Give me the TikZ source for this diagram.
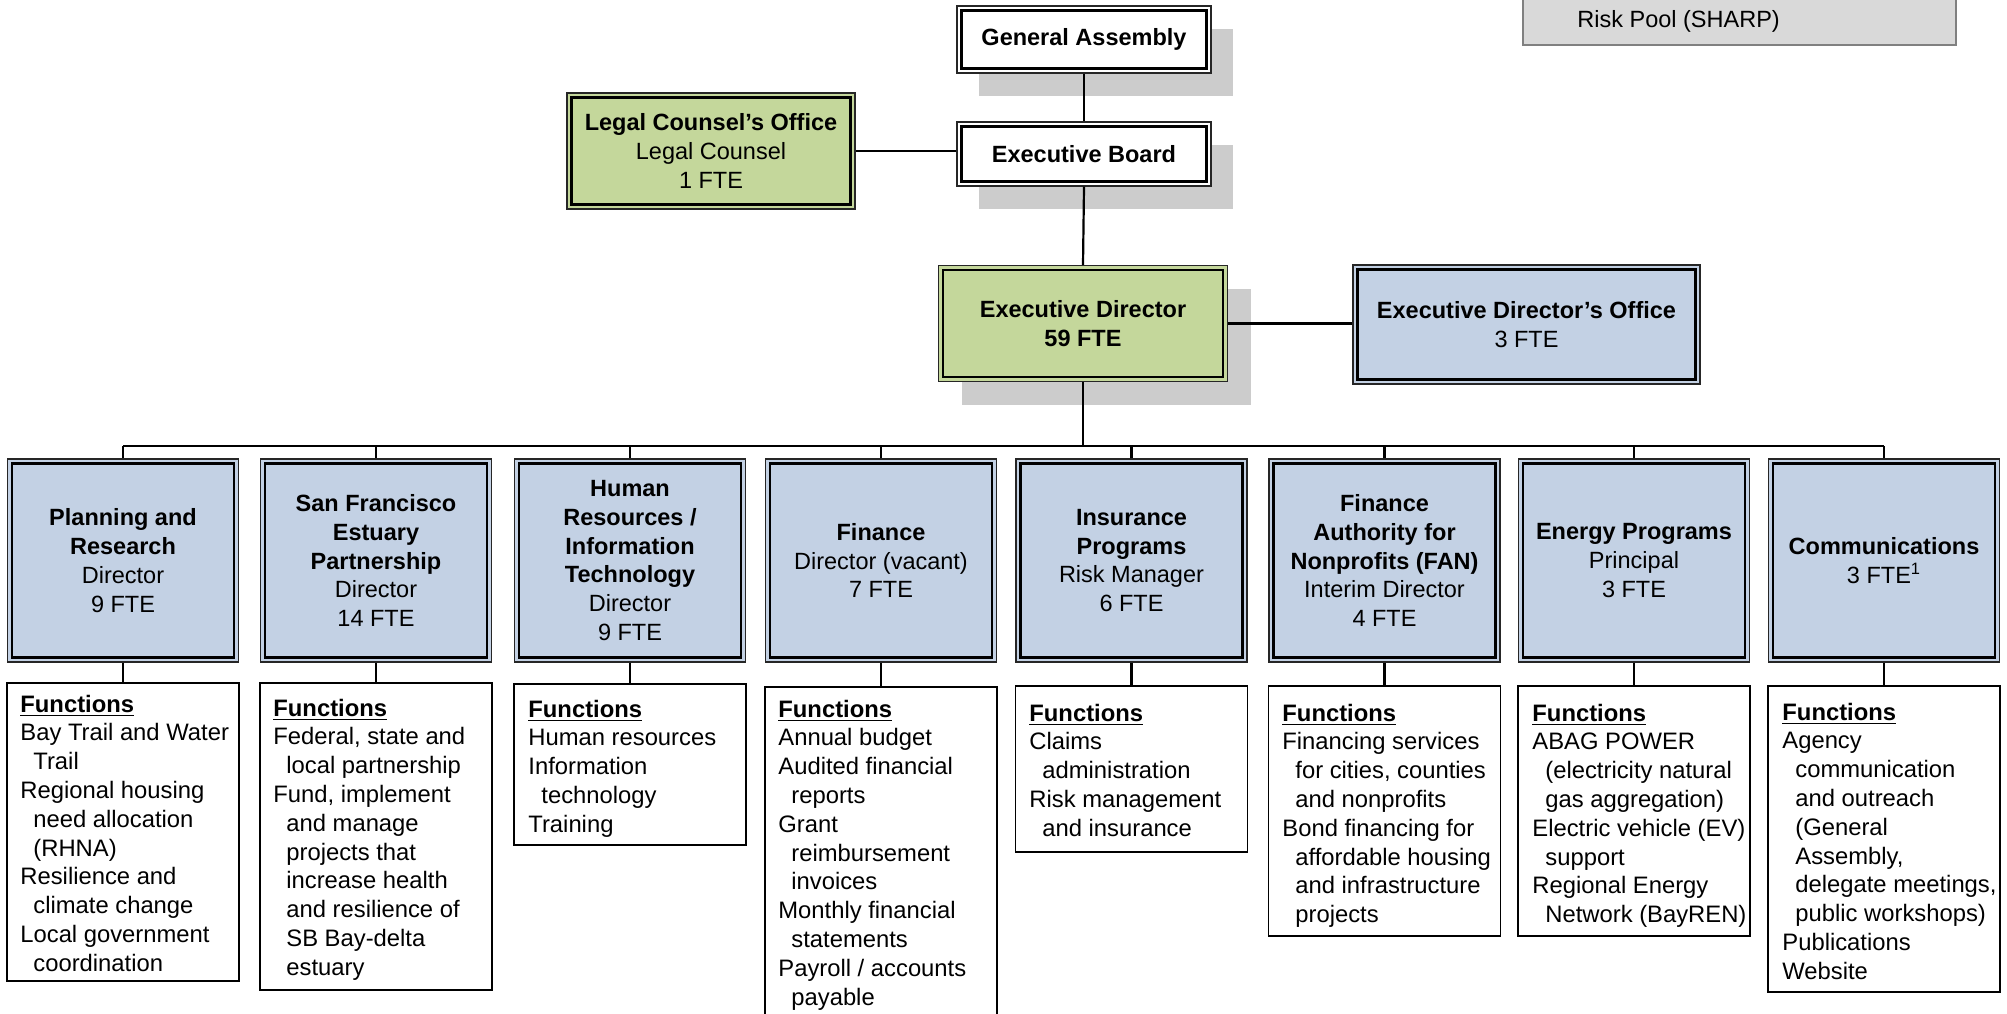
\documentclass[tikz,border=0pt]{standalone}
\usepackage{fontspec}
\setmainfont{Liberation Sans}
\definecolor{deptblue}{RGB}{195,209,228}
\definecolor{leggreen}{RGB}{196,215,155}
\definecolor{shadowgray}{RGB}{204,204,204}
\definecolor{poolgray}{RGB}{217,217,217}
\definecolor{poolborder}{RGB}{128,128,128}
\tikzset{
  every node/.style={font=\fontsize{11.75pt}{14.4pt}\selectfont},
  framebox/.style={draw=black!85, line width=0.7pt, inner sep=0pt, align=center},
  bluebox/.style={framebox, fill=deptblue},
  greenbox/.style={framebox, fill=leggreen},
  whitebox/.style={framebox, fill=white},
  deptbox/.style={bluebox, minimum width=115.5pt, minimum height=101.5pt},
  innerline/.style={draw=black, line width=1.1pt},
  shadowbox/.style={fill=shadowgray, draw=none, inner sep=0pt},
  funcbox/.style={draw=black, line width=0.9pt, inner sep=0pt, minimum width=116pt},
  functext/.style={align=left, inner sep=0pt, anchor=north west, font=\fontsize{11.9pt}{14.4pt}\selectfont},
  conn/.style={draw=black, line width=1.1pt},
}
\newcommand{\innerframe}[1]{\draw[innerline] ([shift={(2.6pt,2.6pt)}]#1.south west) rectangle ([shift={(-2.6pt,-2.6pt)}]#1.north east);}
\newcommand{\ind}{\hspace*{6.5pt}}
\newcommand{\fh}{\textbf{\underline{Functions}}}
\begin{document}
\begin{tikzpicture}[x=0.5pt,y=-0.5pt]
\useasboundingbox (0,0) rectangle (2007,1013);
\clip (0,0) rectangle (2007,1013);

% top-right pool box
\node[draw=poolborder, fill=poolgray, line width=0.7pt, minimum width=216.5pt, minimum height=40pt, inner sep=0pt] (pool) at (1739.5,5) {};
\node[anchor=base west, inner sep=0pt] (pooltxt) at (1577,27) {Risk Pool (SHARP)};

% shadows
\node[shadowbox, minimum width=127pt, minimum height=33.5pt] (gash) at (1106,62.5) {};
\node[shadowbox, minimum width=127pt, minimum height=32pt] (ebsh) at (1106,177) {};
\node[shadowbox, minimum width=144.5pt, minimum height=58pt] (edsh) at (1106,346.5) {};

% top nodes
\node[whitebox, minimum width=127pt, minimum height=33.5pt] (ga) at (1084,39.5) {\textbf{General Assembly}};
\innerframe{ga}
\node[whitebox, minimum width=127pt, minimum height=32pt] (eb) at (1084,154) {\textbf{Executive Board}};
\innerframe{eb}
\node[greenbox, minimum width=144pt, minimum height=58pt] (legal) at (711,151) {\textbf{Legal Counsel’s Office}\\Legal Counsel\\1 FTE};
\innerframe{legal}
\node[greenbox, minimum width=144.5pt, minimum height=58pt] (ed) at (1083,323.5) {\textbf{Executive Director}\\\textbf{59 FTE}};
\innerframe{ed}
\node[bluebox, minimum width=173.5pt, minimum height=59.5pt] (edo) at (1526.5,324.5) {\textbf{Executive Director’s Office}\\3 FTE};
\innerframe{edo}

% departments
\node[deptbox] (d1) at (123,560.5) {\textbf{Planning and}\\\textbf{Research}\\Director\\9 FTE};
\node[deptbox] (d2) at (376,560.5) {\textbf{San Francisco}\\\textbf{Estuary}\\\textbf{Partnership}\\Director\\14 FTE};
\node[deptbox] (d3) at (630,560.5) {\textbf{Human}\\\textbf{Resources /}\\\textbf{Information}\\\textbf{Technology}\\Director\\9 FTE};
\node[deptbox] (d4) at (881,560.5) {\textbf{Finance}\\Director (vacant)\\7 FTE};
\node[deptbox] (d5) at (1131.5,560.5) {\textbf{Insurance}\\\textbf{Programs}\\Risk Manager\\6 FTE};
\node[deptbox] (d6) at (1384.5,560.5) {\textbf{Finance}\\\textbf{Authority for}\\\textbf{Nonprofits (FAN)}\\Interim Director\\4 FTE};
\node[deptbox] (d7) at (1634,560.5) {\textbf{Energy Programs}\\Principal\\3 FTE};
\node[deptbox] (d8) at (1884,560.5) {\textbf{Communications}\\3 FTE\textsuperscript{1}};
\foreach \d in {d1,d2,d3,d4,d5,d6,d7,d8} {\innerframe{\d}}

% function boxes
\node[funcbox, minimum height=149pt] (f1) at (123,832) {};
\node[funcbox, minimum height=153.5pt] (f2) at (376,836.5) {};
\node[funcbox, minimum height=80.5pt] (f3) at (630,764.5) {};
\node[funcbox, minimum height=176.5pt] (f4) at (881,863.5) {};
\node[funcbox, minimum height=83pt] (f5) at (1131.5,769) {};
\node[funcbox, minimum height=125pt] (f6) at (1384.5,811) {};
\node[funcbox, minimum height=125pt] (f7) at (1634,811) {};
\node[funcbox, minimum height=153pt] (f8) at (1884,839) {};

% function texts
\node[functext] (t1) at (20,694.5) {\fh\\Bay Trail and Water\\\ind Trail\\Regional housing\\\ind need allocation\\\ind (RHNA)\\Resilience and\\\ind climate change\\Local government\\\ind coordination};
\node[functext] (t2) at (273,698.5) {\fh\\Federal, state and\\\ind local partnership\\Fund, implement\\\ind and manage\\\ind projects that\\\ind increase health\\\ind and resilience of\\\ind SB Bay-delta\\\ind estuary};
\node[functext] (t3) at (528,699.5) {\fh\\Human resources\\Information\\\ind technology\\Training};
\node[functext] (t4) at (778,699.5) {\fh\\Annual budget\\Audited financial\\\ind reports\\Grant\\\ind reimbursement\\\ind invoices\\Monthly financial\\\ind statements\\Payroll / accounts\\\ind payable};
\node[functext] (t5) at (1029,703.5) {\fh\\Claims\\\ind administration\\Risk management\\\ind and insurance};
\node[functext] (t6) at (1282,703.5) {\fh\\Financing services\\\ind for cities, counties\\\ind and nonprofits\\Bond financing for\\\ind affordable housing\\\ind and infrastructure\\\ind projects};
\node[functext] (t7) at (1532,703.5) {\fh\\ABAG POWER\\\ind (electricity natural\\\ind gas aggregation)\\Electric vehicle (EV)\\\ind support\\Regional Energy\\\ind Network (BayREN)};
\node[functext] (t8) at (1782,702.5) {\fh\\Agency\\\ind communication\\\ind and outreach\\\ind (General\\\ind Assembly,\\\ind delegate meetings,\\\ind public workshops)\\Publications\\Website};

% connectors
\draw[conn] (ga.south) -- (eb.north);
\draw[conn] (eb.south) -- (ed.north);
\draw[conn] (legal.east) -- (legal.east -| eb.west);
\draw[conn] (ed.east) -- (ed.east -| edo.west);
\coordinate (busL) at (123,446);
\coordinate (busR) at (1884,446);
\draw[conn, line width=1.3pt] (busL) -- (busR);
\draw[conn, line width=1.3pt] (ed.south) -- (ed.south |- busL);
\foreach \i in {1,...,8} {
  \draw[conn] (d\i.north) -- (d\i.north |- busL);
  \draw[conn] (d\i.south) -- (f\i.north);
}
\end{tikzpicture}
\end{document}
